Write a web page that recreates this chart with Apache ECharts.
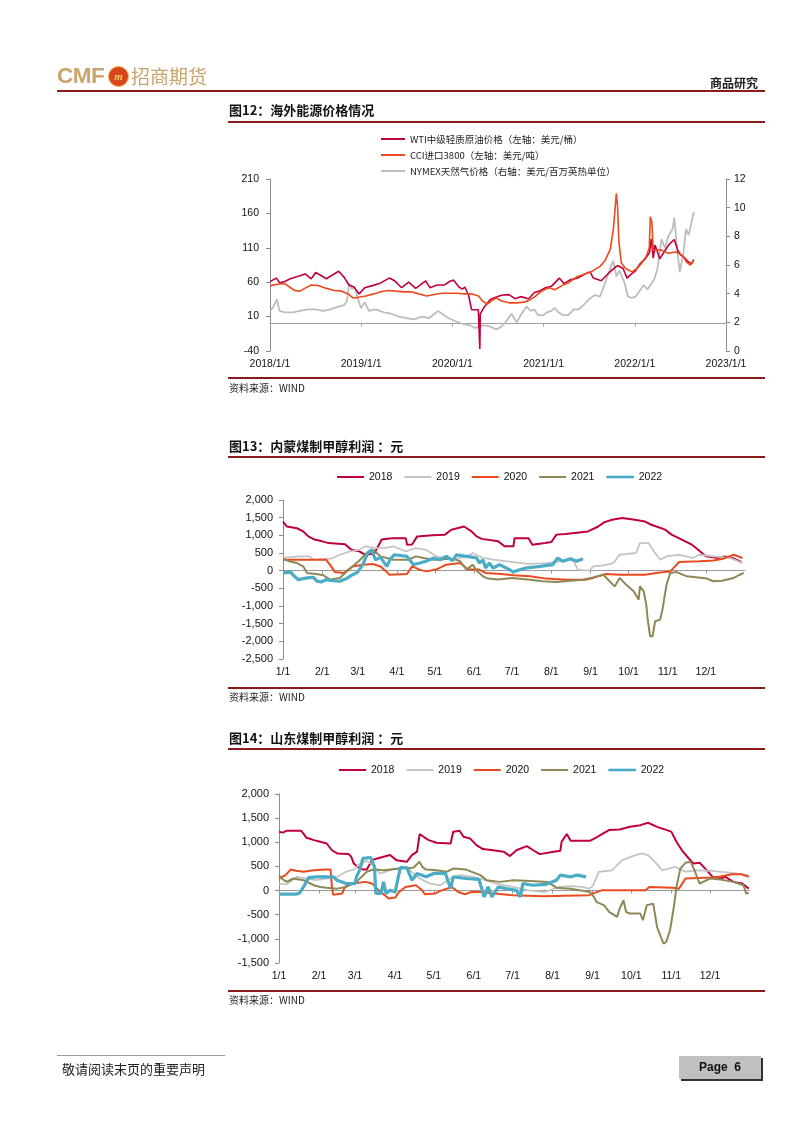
<!DOCTYPE html>
<html><head><meta charset="utf-8">
<script src="https://cdn.jsdelivr.net/npm/echarts@6/dist/echarts.min.js"></script>
<style>
body{margin:0;background:#fff;}
#page{position:relative;width:802px;height:1133px;overflow:hidden;font-family:'Noto Sans CJK SC',sans-serif;background:#fff;}
#chart{position:absolute;left:0;top:0;width:802px;height:1133px;}
.t{position:absolute;white-space:nowrap;color:#111;line-height:1;}
.title{font-size:13px;font-weight:700;}
.src{font-size:10px;color:#222;}
.rule{position:absolute;left:228px;width:537px;height:2px;background:#8B1A1A;}
</style></head><body>
<div id="page">
<div id="chart"></div>

<div class="t" style="left:57px;top:65px;font-family:'Liberation Sans',Arial,sans-serif;font-weight:700;font-size:22.5px;color:#C9A46C;letter-spacing:-0.5px;">CMF</div>
<div style="position:absolute;left:108px;top:66px;width:19px;height:19px;border-radius:50%;background:#D9461E;border:1px solid #E8B44C;color:#F6D35A;font:italic 700 11px 'Liberation Serif',serif;text-align:center;line-height:19px;">m</div>
<div class="t" style="left:131px;top:66px;font-size:19px;color:#C9A46C;">招商期货</div>
<div class="t" style="left:710px;top:77px;font-size:12px;font-weight:700;color:#222;">商品研究</div>
<div style="position:absolute;left:57px;top:90px;width:708px;height:2px;background:#8B1A1A;"></div>

<div class="t title" style="left:229px;top:103px;">图12：海外能源价格情况</div>
<div class="rule" style="top:121px;"></div>
<div class="rule" style="top:377px;height:1.5px;"></div>
<div class="t src" style="left:229px;top:383px;">资料来源：WIND</div>

<div class="t title" style="left:229px;top:439px;">图13：内蒙煤制甲醇利润 ：元</div>
<div class="rule" style="top:456px;"></div>
<div class="rule" style="top:687px;height:1.5px;"></div>
<div class="t src" style="left:229px;top:692px;">资料来源：WIND</div>

<div class="t title" style="left:229px;top:731px;">图14：山东煤制甲醇利润 ：元</div>
<div class="rule" style="top:748px;"></div>
<div class="rule" style="top:990px;height:1.5px;"></div>
<div class="t src" style="left:229px;top:995px;">资料来源：WIND</div>

<div style="position:absolute;left:57px;top:1055px;width:168px;height:1px;background:#999;"></div>
<div class="t" style="left:62px;top:1062px;font-size:13px;color:#222;">敬请阅读末页的重要声明</div>
<div style="position:absolute;left:679px;top:1056px;width:82px;height:23px;background:#C0C0C0;box-shadow:2px 2px 0 #333;font:700 12px 'Liberation Sans',Arial,sans-serif;color:#111;text-align:center;line-height:23px;">Page&nbsp;&nbsp;6</div>
</div>

<script>
// ---------- Chart 12 data (date, value) ----------
const wtiName = 'WTI中级轻质原油价格（左轴：美元/桶）';
const cciName = 'CCI进口3800（左轴：美元/吨）';
const ngName = 'NYMEX天然气价格（右轴：美元/百万英热单位）';
const yearTicks = [2018, 2019, 2020, 2021, 2022, 2023];

const wti = [
['2018-01-02',61],['2018-01-26',66],['2018-02-09',59],['2018-03-01',61],['2018-03-23',65],['2018-04-18',68],['2018-05-22',72],['2018-06-15',65],['2018-07-03',74],['2018-08-15',65],['2018-09-01',69],['2018-10-03',76],['2018-10-25',67],['2018-11-13',56],['2018-12-03',53],['2018-12-24',43],
['2019-01-15',52],['2019-02-15',55],['2019-03-15',58],['2019-04-23',66],['2019-05-15',62],['2019-06-12',52],['2019-07-10',60],['2019-08-07',51],['2019-09-16',62],['2019-10-03',52],['2019-11-01',56],['2019-12-01',56],['2019-12-20',61],
['2020-01-06',63],['2020-01-27',53],['2020-02-10',50],['2020-02-20',53],['2020-03-06',41],['2020-03-18',20],['2020-04-01',20],['2020-04-14',20],['2020-04-20',-37],['2020-04-22',14],['2020-05-08',24],['2020-06-01',35],['2020-06-15',37],['2020-07-15',41],['2020-08-15',42],['2020-09-08',36],['2020-10-01',39],['2020-11-02',36],['2020-11-25',45],['2020-12-15',47],
['2021-01-08',52],['2021-02-01',54],['2021-03-05',66],['2021-03-23',58],['2021-04-15',63],['2021-05-17',66],['2021-06-15',72],['2021-07-06',75],['2021-07-19',66],['2021-08-20',62],['2021-09-15',72],['2021-10-15',82],['2021-10-26',84],['2021-11-15',80],['2021-12-01',66],['2021-12-15',71],
['2022-01-03',76],['2022-01-20',86],['2022-02-14',95],['2022-03-01',103],['2022-03-08',123],['2022-03-16',95],['2022-03-23',114],['2022-04-11',94],['2022-04-25',102],['2022-05-16',114],['2022-06-08',122],['2022-06-22',106],['2022-07-05',99],['2022-07-15',97],['2022-08-05',89],['2022-08-16',87],['2022-08-25',93]
];

const cci = [
['2018-01-02',55],['2018-02-01',57],['2018-03-01',58],['2018-03-20',53],['2018-04-10',48],['2018-05-01',47],['2018-05-20',51],['2018-06-15',56],['2018-07-15',55],['2018-08-15',51],['2018-09-15',48],['2018-10-15',47],['2018-11-10',43],['2018-11-30',37],['2018-12-20',38],
['2019-01-20',40],['2019-02-20',43],['2019-03-20',46],['2019-04-20',48],['2019-05-20',47],['2019-06-20',46],['2019-07-20',46],['2019-08-20',43],['2019-09-20',40],['2019-10-20',42],['2019-11-20',44],['2019-12-20',44],
['2020-01-20',44],['2020-02-20',43],['2020-03-20',43],['2020-04-15',40],['2020-04-30',33],['2020-05-20',28],['2020-06-10',34],['2020-06-25',37],['2020-07-15',33],['2020-08-15',30],['2020-09-15',30],['2020-10-15',31],['2020-11-10',35],['2020-12-01',40],['2020-12-20',46],
['2021-01-10',50],['2021-01-25',52],['2021-02-15',49],['2021-03-15',55],['2021-04-15',60],['2021-05-15',68],['2021-06-15',72],['2021-07-15',76],['2021-08-15',83],['2021-09-05',92],['2021-09-25',108],['2021-10-08',140],['2021-10-19',189],['2021-10-24',170],['2021-10-29',120],['2021-11-08',88],['2021-11-25',80],['2021-12-20',75],
['2022-01-10',80],['2022-01-25',86],['2022-02-15',97],['2022-02-28',110],['2022-03-04',155],['2022-03-10',148],['2022-03-16',106],['2022-04-15',107],['2022-05-15',102],['2022-06-15',104],['2022-07-10',99],['2022-07-28',89],['2022-08-12',85],['2022-08-25',92]
];

const ng = [
['2018-01-02',2.8],['2018-01-15',3.1],['2018-01-29',3.6],['2018-02-08',2.8],['2018-03-01',2.7],['2018-04-01',2.7],['2018-05-01',2.8],['2018-06-01',2.9],['2018-07-01',2.9],['2018-08-01',2.8],['2018-09-01',2.9],['2018-10-01',3.1],['2018-10-25',3.2],['2018-11-05',3.5],['2018-11-14',4.7],['2018-11-25',4.3],['2018-12-05',4.5],['2018-12-20',3.6],['2018-12-31',3.0],
['2019-01-15',3.4],['2019-02-01',2.8],['2019-03-01',2.9],['2019-04-01',2.7],['2019-05-01',2.6],['2019-06-01',2.4],['2019-07-01',2.3],['2019-08-01',2.2],['2019-09-01',2.4],['2019-10-01',2.3],['2019-11-05',2.8],['2019-11-20',2.6],['2019-12-15',2.3],
['2020-01-10',2.1],['2020-02-10',1.9],['2020-03-10',1.8],['2020-04-01',1.6],['2020-05-01',1.8],['2020-06-01',1.7],['2020-06-25',1.5],['2020-07-15',1.7],['2020-08-01',2.0],['2020-08-25',2.6],['2020-09-15',2.0],['2020-10-01',2.5],['2020-10-25',3.1],['2020-11-10',2.8],['2020-11-25',2.9],['2020-12-10',2.5],['2020-12-31',2.5],
['2021-01-15',2.7],['2021-02-01',2.8],['2021-02-15',3.0],['2021-03-01',2.7],['2021-03-20',2.5],['2021-04-10',2.5],['2021-05-01',2.9],['2021-05-20',2.9],['2021-06-10',3.2],['2021-07-01',3.6],['2021-07-25',3.9],['2021-08-15',3.8],['2021-09-01',4.6],['2021-09-15',5.3],['2021-10-06',6.3],['2021-10-20',5.2],['2021-11-01',5.6],['2021-11-20',4.8],['2021-12-05',3.8],['2021-12-20',3.7],
['2022-01-05',3.8],['2022-01-25',4.3],['2022-02-05',4.6],['2022-02-20',4.3],['2022-03-05',4.6],['2022-03-20',5.0],['2022-04-01',5.7],['2022-04-18',7.8],['2022-05-01',7.2],['2022-05-15',8.0],['2022-06-01',8.5],['2022-06-08',9.3],['2022-06-20',7.0],['2022-06-30',5.5],['2022-07-15',6.9],['2022-07-25',8.5],['2022-08-05',8.1],['2022-08-15',8.9],['2022-08-25',9.7]
];

// ---------- Chart 13/14 shared ----------
const years = ['2018', '2019', '2020', '2021', '2022'];
const monthLabels = ['1/1','2/1','3/1','4/1','5/1','6/1','7/1','8/1','9/1','10/1','11/1','12/1'];

// 内蒙 (M/D, 元)
const nm2018 = [['1/1',1390],['1/4',1250],['1/12',1200],['1/17',1110],['1/21',970],['1/26',880],['2/1',830],['2/6',780],['2/19',750],['2/24',590],['3/2',550],['3/7',450],['3/14',480],['3/20',880],['3/28',920],['4/8',920],['4/9',735],['4/13',740],['4/17',970],['4/29',1000],['5/9',1020],['5/14',1160],['5/24',1250],['5/30',1110],['6/3',970],['6/7',900],['6/20',830],['6/25',690],['7/2',690],['7/3',920],['7/14',920],['7/17',735],['7/27',780],['8/1',810],['8/5',1020],['8/12',1035],['8/30',1110],['9/7',1250],['9/12',1375],['9/18',1440],['9/26',1490],['10/6',1440],['10/14',1390],['10/19',1300],['10/30',1160],['11/4',1020],['11/12',880],['11/20',735],['11/25',590],['12/1',405],['12/11',360],['12/16',405],['12/22',360],['12/29',245]];
const nm2019 = [['1/1',360],['1/14',405],['1/22',405],['1/25',310],['2/8',340],['2/15',450],['2/23',545],['3/2',590],['3/7',690],['3/15',640],['3/22',640],['3/29',690],['4/8',545],['4/16',640],['4/24',590],['5/2',405],['5/15',310],['5/26',405],['5/31',500],['6/8',360],['6/16',310],['6/27',265],['7/14',190],['7/28',215],['8/8',265],['8/18',310],['8/22',30],['8/31',0],['9/3',120],['9/11',150],['9/19',215],['9/24',450],['10/7',500],['10/10',780],['10/17',780],['10/20',590],['10/26',310],['10/31',405],['11/10',450],['11/21',360],['11/26',450],['12/7',405],['12/20',360],['12/30',215]];
const nm2020 = [['1/1',310],['2/4',310],['2/8',120],['2/11',-40],['2/18',-65],['2/25',120],['3/5',170],['3/13',190],['3/19',120],['3/24',-40],['3/26',-115],['4/9',-95],['4/13',120],['4/19',30],['4/24',-20],['5/2',30],['5/10',170],['5/21',215],['5/27',30],['6/5',30],['6/10',-65],['6/22',-95],['7/2',-130],['7/15',-160],['7/28',-225],['8/13',-255],['8/28',-255],['9/3',-205],['9/13',-95],['9/24',-115],['10/14',-115],['10/23',-65],['11/3',-20],['11/8',170],['11/10',245],['11/26',265],['12/7',285],['12/15',340],['12/23',450],['12/30',360]];
const nm2021 = [['1/1',340],['1/6',265],['1/12',215],['1/17',120],['1/20',-65],['1/27',-95],['2/2',-130],['2/7',-255],['2/15',-205],['2/19',-65],['2/25',120],['3/3',310],['3/8',500],['3/13',590],['3/19',405],['3/29',310],['4/10',310],['4/16',405],['4/22',360],['4/30',310],['5/15',340],['5/21',265],['5/26',30],['5/31',170],['6/3',0],['6/8',-160],['6/12',-225],['6/20',-250],['7/1',-205],['7/15',-255],['7/25',-300],['8/5',-320],['8/16',-285],['8/26',-255],['9/3',-190],['9/11',-115],['9/16',-300],['9/20',-445],['9/24',-205],['9/29',-395],['10/5',-585],['10/9',-820],['10/10',-445],['10/13',-585],['10/15',-960],['10/16',-1340],['10/18',-1855],['10/20',-1855],['10/22',-1430],['10/26',-1385],['10/28',-1055],['10/31',-395],['11/3',-65],['11/8',-40],['11/16',-160],['12/2',-225],['12/7',-300],['12/14',-285],['12/23',-205],['12/28',-115],['12/31',-65]];
const nm2022 = [['1/1',-65],['1/7',-40],['1/10',-160],['1/13',-255],['1/20',-205],['1/25',-190],['1/28',-300],['1/31',-320],['2/4',-255],['2/9',-285],['2/15',-300],['2/20',-225],['2/25',-115],['3/1',-40],['3/5',170],['3/9',500],['3/12',590],['3/15',310],['3/19',375],['3/24',120],['3/27',340],['3/30',450],['4/9',405],['4/14',170],['4/19',215],['4/24',265],['4/30',360],['5/5',310],['5/10',405],['5/15',285],['5/18',450],['5/26',405],['6/3',360],['6/5',217],['6/8',300],['6/10',75],['6/13',217],['6/16',75],['6/21',170],['6/29',28],['7/2',-38],['7/7',28],['7/12',75],['7/23',122],['8/2',170],['8/6',358],['8/10',264],['8/16',339],['8/21',264],['8/26',339]];

// 山东 (M/D, 元)
const sd2018 = [['1/1',1220],['1/4',1200],['1/7',1240],['1/18',1240],['1/20',1180],['1/22',1100],['1/28',1045],['2/2',1010],['2/7',975],['2/11',835],['2/15',770],['2/24',755],['2/26',700],['2/28',560],['3/3',490],['3/7',435],['3/10',435],['3/14',630],['3/18',665],['3/28',735],['4/2',630],['4/10',595],['4/14',735],['4/18',805],['4/20',1170],['4/23',1115],['4/27',1045],['5/3',990],['5/14',975],['5/16',1220],['5/21',1240],['5/24',1115],['5/29',1080],['6/3',940],['6/8',860],['6/16',835],['6/24',805],['6/29',715],['7/4',835],['7/12',920],['7/17',835],['7/22',755],['8/2',805],['8/7',825],['8/8',1010],['8/12',1170],['8/15',1030],['8/30',1030],['9/4',1100],['9/14',1255],['9/22',1265],['9/30',1320],['10/8',1355],['10/14',1405],['10/21',1320],['11/1',1220],['11/5',1010],['11/10',805],['11/18',560],['11/23',575],['11/28',435],['12/3',285],['12/9',250],['12/13',285],['12/19',180],['12/26',145],['12/31',40]];
const sd2019 = [['1/1',145],['1/7',130],['1/15',285],['1/22',250],['1/30',215],['2/7',250],['2/15',285],['2/22',390],['2/28',435],['3/5',560],['3/10',615],['3/15',525],['3/20',355],['3/25',390],['3/31',455],['4/10',475],['4/20',250],['4/28',145],['5/6',110],['5/14',250],['5/21',320],['5/31',285],['6/10',215],['6/18',145],['7/1',75],['7/14',5],['7/26',-30],['8/6',75],['8/16',90],['8/24',75],['8/29',40],['9/1',90],['9/6',390],['9/16',420],['9/24',630],['10/2',715],['10/9',770],['10/14',735],['10/20',575],['10/25',420],['10/30',455],['11/4',490],['11/12',390],['11/20',420],['12/2',410],['12/18',365],['12/31',320]];
const sd2020 = [['1/1',250],['1/6',320],['1/10',435],['1/14',410],['1/20',390],['1/28',420],['2/6',435],['2/10',435],['2/11',75],['2/12',-85],['2/19',-60],['2/21',75],['2/27',145],['3/9',180],['3/14',145],['3/17',75],['3/19',5],['3/24',-95],['3/27',-165],['4/1',-145],['4/4',-30],['4/9',75],['4/17',110],['4/22',5],['4/24',-75],['5/2',-60],['5/7',5],['5/15',75],['5/20',-30],['5/25',-75],['5/30',-30],['6/5',-30],['7/1',-95],['7/24',-120],['8/29',-95],['9/8',5],['10/12',5],['10/15',75],['11/2',60],['11/7',40],['11/12',250],['12/2',270],['12/8',285],['12/18',340],['12/25',340],['12/31',285]];
const sd2021 = [['1/1',320],['1/3',250],['1/7',180],['1/12',250],['1/20',215],['1/28',110],['2/2',75],['2/7',60],['2/15',40],['2/22',75],['3/2',180],['3/10',390],['3/15',435],['3/23',420],['4/5',455],['4/15',475],['4/20',595],['4/22',490],['4/25',435],['5/3',420],['5/11',390],['5/16',455],['5/26',435],['6/6',320],['6/11',215],['6/21',180],['7/2',215],['7/15',200],['7/28',180],['8/4',60],['8/15',40],['8/30',-30],['9/2',-130],['9/4',-235],['9/10',-305],['9/14',-445],['9/20',-545],['9/22',-375],['9/25',-200],['9/27',-445],['9/30',-475],['10/8',-475],['10/10',-615],['10/13',-305],['10/18',-270],['10/21',-755],['10/23',-895],['10/26',-1100],['10/28',-1065],['10/31',-825],['11/3',-340],['11/5',75],['11/8',455],['11/12',575],['11/16',595],['11/19',420],['11/23',145],['12/1',250],['12/9',230],['12/19',180],['12/27',110],['12/29',-60],['12/31',-45]];
const sd2022 = [['1/1',-75],['1/14',-75],['1/17',-50],['1/20',75],['1/24',270],['1/30',285],['2/12',285],['2/15',215],['2/22',145],['3/1',145],['3/2',285],['3/5',455],['3/7',665],['3/13',685],['3/16',490],['3/17',-60],['3/21',-60],['3/23',180],['3/25',-60],['3/28',5],['4/1',-30],['4/5',475],['4/10',475],['4/14',215],['4/18',355],['4/25',285],['5/1',355],['5/10',355],['5/14',40],['5/16',285],['5/26',250],['6/5',230],['6/9',-130],['6/12',75],['6/15',-130],['6/20',75],['6/26',40],['7/4',5],['7/7',-130],['7/9',145],['7/17',110],['7/27',130],['8/4',215],['8/7',320],['8/15',285],['8/20',320],['8/27',285]];

// ---------- helpers ----------
const MONTH_STARTS = [0,31,59,90,120,151,181,212,243,273,304,334];
function doy(md){ const p = md.split('/').map(Number); return MONTH_STARTS[p[0]-1] + p[1] - 1; }
function decYear(s){ const p = s.split('-').map(Number); const t0 = Date.UTC(p[0],0,1), t1 = Date.UTC(p[0]+1,0,1); return p[0] + (Date.UTC(p[0],p[1]-1,p[2]) - t0) / (t1 - t0); }
const toYear = arr => arr.map(d => [decYear(d[0]), d[1]]);
const toDoy = arr => arr.map(d => [doy(d[0]), d[1]]);

const NUM_FONT = 'Liberation Sans, Arial, sans-serif';
const AX = '#8c8c8c';
const yearColors = { '2018':'#C0003C', '2019':'#C4C4C4', '2020':'#EB4A1E', '2021':'#8E8856', '2022':'#4BACC6' };
const yearWidths = { '2018':2, '2019':1.8, '2020':2, '2021':2, '2022':3.2 };

function monthXAxis(grid){
  return {
    gridIndex: grid, type:'value', min:0, max:365,
    axisLine:{ show:true, onZero:true, lineStyle:{ color:'#9a9a9a', width:1 } },
    axisTick:{ show:true, length:3, customValues: MONTH_STARTS, lineStyle:{ color:'#9a9a9a' } },
    axisLabel:{ customValues: MONTH_STARTS, formatter: v => monthLabels[MONTH_STARTS.indexOf(v)] || '', margin:8, fontSize:10.5, color:'#111', fontFamily:NUM_FONT },
    splitLine:{ show:false }
  };
}
function profitYAxis(grid, min, max){
  return {
    gridIndex: grid, type:'value', min, max, interval:500, position:'left',
    axisLine:{ show:true, onZero:false, lineStyle:{ color:AX } },
    axisTick:{ show:true, length:4, lineStyle:{ color:AX } },
    axisLabel:{ formatter: v => v.toLocaleString('en-US'), margin:10, fontSize:11, color:'#111', fontFamily:NUM_FONT },
    splitLine:{ show:false }
  };
}
function yearSeries(dataList, xi, yi){
  return years.map((y, i) => ({
    name: y, type:'line', xAxisIndex: xi, yAxisIndex: yi, symbol:'none', showSymbol:false, animation:false,
    lineStyle:{ color: yearColors[y], width: yearWidths[y] }, itemStyle:{ color: yearColors[y] },
    data: toDoy(dataList[i])
  }));
}
function yearLegend(left, top){
  return {
    left, top, padding:0, icon:'rect', itemWidth:27, itemHeight:2, itemGap:12,
    data: years.map(y => y === '2022'
      ? { name:y, itemStyle:{ color: yearColors[y], borderColor: yearColors[y], borderWidth:0.6 } }
      : { name:y }),
    textStyle:{ fontSize:10.5, lineHeight:12, color:'#111', fontFamily:NUM_FONT }
  };
}

const chart = echarts.init(document.getElementById('chart'), null, { renderer:'canvas' });
chart.setOption({
  animation:false,
  backgroundColor:'transparent',
  grid:[
    { left:270, right:76, top:179, height:172 },
    { left:283, right:57, top:500, height:159 },
    { left:279, right:52, top:794, height:169 }
  ],
  legend:[
    { orient:'vertical', left:381, top:133, padding:0, icon:'rect', itemWidth:24, itemHeight:2, itemGap:4,
      data:[wtiName, cciName, ngName],
      textStyle:{ fontSize:9.5, lineHeight:12, color:'#222', fontFamily:'Noto Sans CJK SC' } },
    yearLegend(337, 471),
    yearLegend(339, 764)
  ],
  xAxis:[
    { gridIndex:0, type:'value', min:2018, max:2023, interval:1,
      axisLine:{ show:true, onZero:true, onZeroAxisIndex:0, lineStyle:{ color:'#a0a0a0' } },
      axisTick:{ show:true, length:3, lineStyle:{ color:'#a0a0a0' } },
      axisLabel:{ formatter: v => v + '/1/1', showMinLabel:true, showMaxLabel:true, margin:8, fontSize:10.5, color:'#111', fontFamily:NUM_FONT },
      splitLine:{ show:false } },
    monthXAxis(1),
    monthXAxis(2)
  ],
  yAxis:[
    { gridIndex:0, type:'value', min:-40, max:210, interval:50, position:'left',
      axisLine:{ show:true, onZero:false, lineStyle:{ color:AX } },
      axisTick:{ show:true, length:4, lineStyle:{ color:AX } },
      axisLabel:{ margin:11, fontSize:10.5, color:'#111', fontFamily:NUM_FONT },
      splitLine:{ show:false } },
    { gridIndex:0, type:'value', min:0, max:12, interval:2, position:'right',
      axisLine:{ show:true, onZero:false, lineStyle:{ color:AX } },
      axisTick:{ show:true, length:4, lineStyle:{ color:AX } },
      axisLabel:{ margin:8, fontSize:10.5, color:'#111', fontFamily:NUM_FONT },
      splitLine:{ show:false } },
    profitYAxis(1, -2500, 2000),
    profitYAxis(2, -1500, 2000)
  ],
  series:[
    { name:ngName, type:'line', xAxisIndex:0, yAxisIndex:1, symbol:'none', showSymbol:false,
      lineStyle:{ color:'#BDBDBD', width:1.8 }, itemStyle:{ color:'#BDBDBD' }, data: toYear(ng) },
    { name:wtiName, type:'line', xAxisIndex:0, yAxisIndex:0, symbol:'none', showSymbol:false,
      lineStyle:{ color:'#C0003C', width:1.6 }, itemStyle:{ color:'#C0003C' }, data: toYear(wti) },
    { name:cciName, type:'line', xAxisIndex:0, yAxisIndex:0, symbol:'none', showSymbol:false,
      lineStyle:{ color:'#EB4A1E', width:1.6 }, itemStyle:{ color:'#EB4A1E' }, data: toYear(cci) },
    ...yearSeries([nm2018, nm2019, nm2020, nm2021, nm2022], 1, 2),
    ...yearSeries([sd2018, sd2019, sd2020, sd2021, sd2022], 2, 3)
  ]
});
</script>
</body></html>
